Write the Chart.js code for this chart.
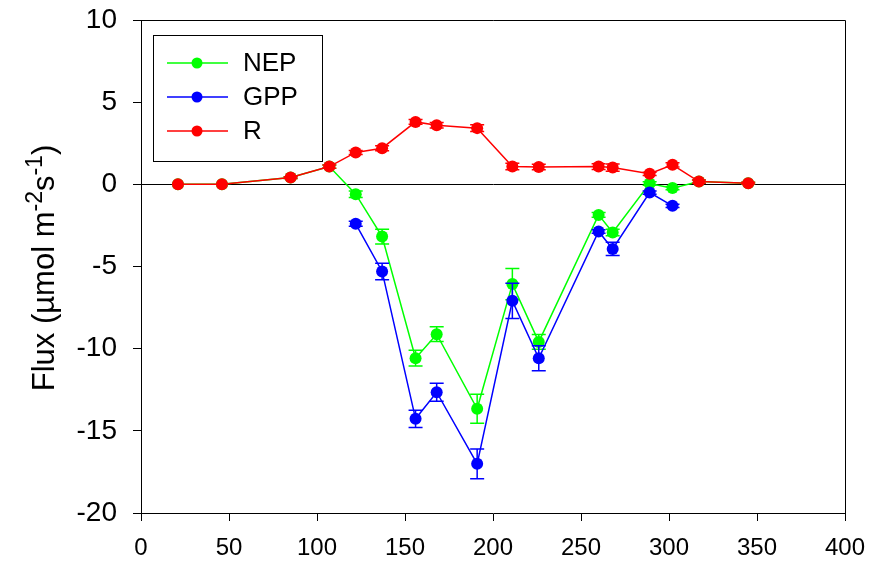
<!DOCTYPE html>
<html>
<head>
<meta charset="utf-8">
<script src="https://cdn.jsdelivr.net/npm/chart.js@4"></script>
<style>
    html, body { margin: 0; padding: 0; background: #fff; }
    #wrap { width: 872px; height: 566px; position: relative; }
</style>
</head>
<body>
<div id="wrap"><canvas id="chart"></canvas></div>
<script>
// ======================
// Data (day of year vs flux)
// ======================
const days = [21, 46, 85, 107, 122, 137, 156, 168, 191, 211, 226, 260, 268, 289, 302, 317, 345];
const nepValues = [0, 0, 0.41, 1.08, -0.6, -3.18, -10.58, -9.12, -13.66, -6.07, -9.59, -1.86, -2.93, 0.05, -0.23, 0.17, 0.07];
const nepErrors = [0, 0, 0.05, 0.1, 0.2, 0.45, 0.48, 0.45, 0.88, 0.95, 0.45, 0.15, 0.2, 0.1, 0.1, 0.1, 0.05];

const gppDays = [122, 137, 156, 168, 191, 211, 226, 260, 268, 289, 302];
const gppValues = [-2.4, -5.3, -14.27, -12.65, -17.01, -7.09, -10.58, -2.87, -3.93, -0.5, -1.31];
const gppErrors = [0.15, 0.5, 0.53, 0.55, 0.91, 1.07, 0.76, 0.1, 0.4, 0.1, 0.1];

const rValues = [0, 0, 0.41, 1.08, 1.94, 2.2, 3.8, 3.6, 3.42, 1.08, 1.05, 1.08, 1.02, 0.64, 1.19, 0.17, 0.07];
const rErrors = [0, 0, 0.05, 0.1, 0.12, 0.15, 0.15, 0.17, 0.2, 0.2, 0.17, 0.17, 0.22, 0.1, 0.13, 0.1, 0.05];

const xTicks = [0, 50, 100, 150, 200, 250, 300, 350, 400];
const yTicks = [-20, -15, -10, -5, 0, 5, 10];

const FONT = "Arial, 'Liberation Sans', sans-serif";

function toPoints(xs, ys, errs) {
    return xs.map((x, i) => ({ x: x, y: ys[i], err: errs[i] }));
}

// ======================
// Plugins
// ======================
const errorBars = {
    id: "errorBars",
    beforeDatasetDraw(chart, args) {
        const ctx = chart.ctx;
        const ds = chart.data.datasets[args.index];
        const xs = chart.scales.x, ys = chart.scales.y;
        ctx.save();
        ctx.strokeStyle = ds.borderColor;
        ctx.lineWidth = 1.5;
        ds.data.forEach(p => {
            if (!p.err) return;
            const px = xs.getPixelForValue(p.x);
            const top = ys.getPixelForValue(p.y + p.err);
            const bot = ys.getPixelForValue(p.y - p.err);
            ctx.beginPath();
            ctx.moveTo(px, top); ctx.lineTo(px, bot);
            ctx.moveTo(px - 7, top); ctx.lineTo(px + 7, top);
            ctx.moveTo(px - 7, bot); ctx.lineTo(px + 7, bot);
            ctx.stroke();
        });
        ctx.restore();
    }
};

const frameAndLegend = {
    id: "frameAndLegend",
    afterDraw(chart) {
        const ctx = chart.ctx;
        const a = chart.chartArea;
        ctx.save();
        // top and right frame
        ctx.strokeStyle = "#000";
        ctx.lineWidth = 1;
        ctx.beginPath();
        ctx.moveTo(a.left, a.top + 0.5); ctx.lineTo(a.right + 0.5, a.top + 0.5);
        ctx.lineTo(a.right + 0.5, a.bottom);
        ctx.stroke();

        // legend box
        const bx = a.left + 12, by = a.top + 15;
        ctx.strokeRect(bx + 0.5, by + 0.5, 169, 126);
        const order = [0, 1, 2];
        order.forEach((di, row) => {
            const ds = chart.data.datasets[di];
            const cy = by + 28 + row * 34;
            ctx.strokeStyle = ds.borderColor;
            ctx.lineWidth = 1.5;
            ctx.beginPath();
            ctx.moveTo(bx + 14, cy); ctx.lineTo(bx + 75, cy);
            ctx.stroke();
            ctx.fillStyle = ds.borderColor;
            ctx.beginPath();
            ctx.arc(bx + 44, cy, 5.5, 0, Math.PI * 2);
            ctx.fill();
            ctx.fillStyle = "#000";
            ctx.font = "26px " + FONT;
            ctx.textBaseline = "middle";
            ctx.textAlign = "left";
            ctx.fillText(ds.label, bx + 90, cy + 1);
        });

        // y axis title with superscripts
        const parts = [
            ["Flux (\u00b5mol m", 0], ["-2", 1], ["s", 0], ["-1", 1], [")", 0]
        ];
        const big = 31, small = 23;
        let total = 0;
        parts.forEach(p => {
            ctx.font = (p[1] ? small : big) + "px " + FONT;
            total += ctx.measureText(p[0]).width;
        });
        ctx.translate(54, 268);
        ctx.rotate(-Math.PI / 2);
        ctx.fillStyle = "#000";
        ctx.textBaseline = "alphabetic";
        let cx = -total / 2;
        parts.forEach(p => {
            ctx.font = (p[1] ? small : big) + "px " + FONT;
            ctx.fillText(p[0], cx, p[1] ? -12 : 0);
            cx += ctx.measureText(p[0]).width;
        });
        ctx.restore();
    }
};

// ======================
// Chart
// ======================
function initChart() {
    const el = document.getElementById("chart");
    new Chart(el, {
        type: "line",
        data: {
            datasets: [{
                label: "NEP",
                data: toPoints(days, nepValues, nepErrors),
                borderColor: "#00ff00",
                backgroundColor: "#00ff00",
                order: 3
            }, {
                label: "GPP",
                data: toPoints(gppDays, gppValues, gppErrors),
                borderColor: "#0000ff",
                backgroundColor: "#0000ff",
                order: 2
            }, {
                label: "R",
                data: toPoints(days, rValues, rErrors),
                borderColor: "#ff0000",
                backgroundColor: "#ff0000",
                order: 1
            }]
        },
        options: {
            responsive: true,
            maintainAspectRatio: false,
            animation: false,
            devicePixelRatio: 1,
            elements: {
                line: { borderWidth: 1.5, tension: 0, fill: false },
                point: { radius: 6, borderWidth: 0, hoverRadius: 6 }
            },
            layout: { padding: { top: 20, right: 27, left: 0, bottom: 0 } },
            plugins: { legend: { display: false }, tooltip: { enabled: false } },
            scales: {
                x: {
                    type: "linear",
                    min: 0, max: 400,
                    afterBuildTicks: s => { s.ticks = xTicks.map(v => ({ value: v })); },
                    afterFit: s => { s.height = 53; s.paddingLeft = 0; s.paddingRight = 0; },
                    grid: { drawOnChartArea: false, tickLength: 8, tickColor: "#000", tickWidth: 1 },
                    border: { display: true, color: "#000", width: 1 },
                    ticks: { color: "#000", padding: 13, maxRotation: 0, font: { family: FONT, size: 24 } }
                },
                y: {
                    min: -20, max: 10,
                    afterBuildTicks: s => { s.ticks = yTicks.map(v => ({ value: v })); },
                    afterFit: s => { s.width = 141; s.paddingTop = 0; s.paddingBottom = 0; },
                    grid: {
                        color: c => (c.tick && c.tick.value === 0 ? "#000" : "rgba(0,0,0,0)"),
                        lineWidth: 1,
                        tickLength: 8, tickColor: "#000", tickWidth: 1
                    },
                    border: { display: true, color: "#000", width: 1 },
                    ticks: { color: "#000", padding: 16, font: { family: FONT, size: 28 } }
                }
            }
        },
        plugins: [errorBars, frameAndLegend]
    });
}

document.addEventListener("DOMContentLoaded", initChart);
</script>
</body>
</html>
